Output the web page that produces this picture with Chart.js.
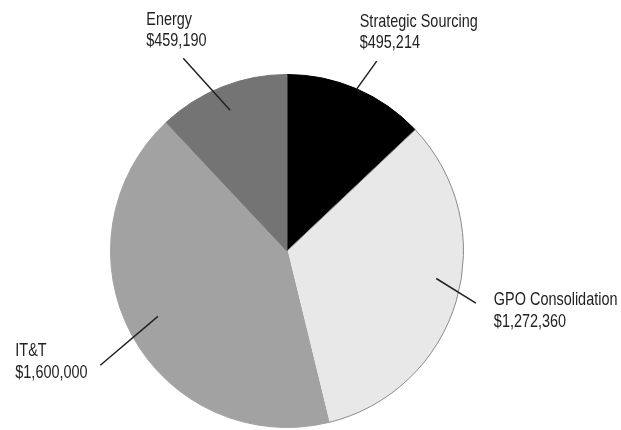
<!DOCTYPE html>
<html><head><meta charset="utf-8">
<script src="https://cdn.jsdelivr.net/npm/chart.js@4"></script>
<style>html,body{margin:0;padding:0;background:#fff}#wrap{width:621px;height:430px}</style>
</head><body><div id="wrap"><canvas id="c" width="621" height="430"></canvas></div>
<script>
const categories = ['Strategic Sourcing', 'GPO Consolidation', 'IT&T', 'Energy'];
const values = [495214, 1272360, 1600000, 459190];
const valueLabels = ['$495,214', '$1,272,360', '$1,600,000', '$459,190'];
const sliceColors = ['#000000', '#e8e8e8', '#a2a2a2', '#747474'];
const sliceBorders = ['#000000', '#8a8a8a', '#a2a2a2', '#747474'];

// leader layout: angle offset (deg), start radius factor, end radius factor, text offset, line height
const leaderLayout = [
  {a0: 0, a1: 2, r0: 1.0, r1: 1.19, dx: -17, dy: -39, lh: 21},
  {a0: -6, a1: -1, r0: 0.86, r1: 1.11, dx: 18, dy: -3, lh: 22},
  {a0: 1.6, a1: -3, r0: 0.82, r1: 1.24, dx: -85, dy: -14, lh: 22},
  {a0: -0.4, a1: -6.7, r0: 0.86, r1: 1.24, dx: -37, dy: -39, lh: 21}
];

const labelPlugin = {
  id: 'leaders',
  afterDatasetsDraw(chart) {
    const ctx = chart.ctx;
    const meta = chart.getDatasetMeta(0);
    ctx.save();
    ctx.fillStyle = '#222';
    ctx.strokeStyle = '#222';
    ctx.lineWidth = 1.5;
    const drawText = (t, x, y) => {
      ctx.save();
      ctx.translate(x, y);
      ctx.scale(0.76, 1);
      ctx.font = '19px "Liberation Sans", Arial, sans-serif';
      ctx.textBaseline = 'middle';
      ctx.textAlign = 'left';
      ctx.fillText(t, 0, 0);
      ctx.restore();
    };
    meta.data.forEach((arc, i) => {
      const L = leaderLayout[i];
      const mid = (arc.startAngle + arc.endAngle) / 2;
      const R = arc.outerRadius;
      const a0 = mid + L.a0 * Math.PI / 180;
      const a1 = mid + L.a1 * Math.PI / 180;
      const x0 = arc.x + Math.cos(a0) * R * L.r0, y0 = arc.y + Math.sin(a0) * R * L.r0;
      const x1 = arc.x + Math.cos(a1) * R * L.r1, y1 = arc.y + Math.sin(a1) * R * L.r1;
      ctx.beginPath(); ctx.moveTo(x0, y0); ctx.lineTo(x1, y1); ctx.stroke();
      drawText(categories[i], x1 + L.dx, y1 + L.dy);
      drawText(valueLabels[i], x1 + L.dx, y1 + L.dy + L.lh);
    });
    ctx.restore();
  }
};

new Chart(document.getElementById('c'), {
  type: 'pie',
  data: {
    labels: categories,
    datasets: [{
      data: values,
      backgroundColor: sliceColors,
      borderColor: sliceBorders,
      borderWidth: 1
    }]
  },
  options: {
    responsive: false,
    animation: false,
    layout: {padding: {top: 74, bottom: 2, left: 110, right: 157}},
    plugins: {legend: {display: false}, tooltip: {enabled: false}}
  },
  plugins: [labelPlugin]
});
</script></body></html>
